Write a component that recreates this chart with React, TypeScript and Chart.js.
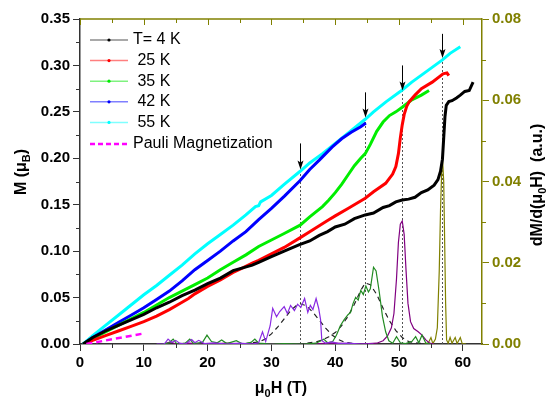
import React, { useEffect, useRef } from "react";
import { Chart, registerables } from "chart.js";
Chart.register(...registerables);

const FONT = "'Liberation Sans', Arial, Helvetica, sans-serif";
const OLIVE = "#808000";

// ---- Magnetization M(H) (left axis, μB) ----
const fieldT4 = [0.5, 2, 4, 6, 8, 10, 12, 14, 16, 18, 20, 22, 24, 25.5, 27, 28, 30, 32, 34.4, 36, 37.5, 38.8, 40, 41.5, 43, 44.7, 46, 47.5, 48.5, 49.5, 50.5, 51.5, 52.5, 53.5, 54.5, 55.5, 56.1, 56.5, 56.8, 57.0, 57.2, 57.4, 57.8, 58.3, 59, 59.6, 60.3, 61, 61.6];
const magT4 = [0, 0.007, 0.014, 0.020, 0.026, 0.032, 0.039, 0.045, 0.052, 0.058, 0.065, 0.071, 0.079, 0.082, 0.085, 0.088, 0.094, 0.100, 0.107, 0.111, 0.117, 0.121, 0.126, 0.129, 0.135, 0.139, 0.141, 0.147, 0.149, 0.153, 0.155, 0.156, 0.158, 0.163, 0.166, 0.171, 0.177, 0.186, 0.199, 0.222, 0.245, 0.257, 0.261, 0.262, 0.265, 0.268, 0.272, 0.273, 0.282];

const fieldT25 = [1, 2, 4, 6, 8, 10, 12, 14, 16, 17, 18, 20, 22, 24, 25.5, 27, 28, 30, 32, 34.4, 36, 38.8, 40, 42, 44.7, 46, 47.9, 49, 49.5, 49.9, 50.2, 50.5, 50.8, 51.2, 51.6, 52.5, 53.5, 55.2, 56.9, 57.5, 57.8];
const magT25 = [0, 0.004, 0.009, 0.014, 0.019, 0.024, 0.030, 0.037, 0.045, 0.049, 0.054, 0.062, 0.069, 0.077, 0.082, 0.087, 0.090, 0.097, 0.104, 0.114, 0.121, 0.133, 0.138, 0.146, 0.157, 0.164, 0.173, 0.183, 0.191, 0.205, 0.222, 0.236, 0.247, 0.256, 0.261, 0.268, 0.275, 0.282, 0.291, 0.292, 0.289];

const fieldT35 = [0.5, 2, 4, 6, 8, 10, 12, 14, 16, 18, 20, 22, 24, 26, 28, 30, 32, 34.5, 36, 38, 39, 40, 41, 42, 43, 44, 44.7, 45.5, 46.5, 47.5, 48.5, 49.5, 50.5, 52, 53.5, 54.7];
const magT35 = [0, 0.006, 0.013, 0.020, 0.027, 0.034, 0.042, 0.050, 0.057, 0.064, 0.071, 0.080, 0.088, 0.096, 0.105, 0.112, 0.119, 0.128, 0.137, 0.148, 0.155, 0.163, 0.172, 0.182, 0.192, 0.200, 0.205, 0.215, 0.229, 0.239, 0.246, 0.250, 0.255, 0.263, 0.268, 0.273];

const fieldT42 = [0.5, 2, 4, 6, 8, 10, 12, 14, 16, 18, 20, 22, 24, 26, 28, 30, 32, 34.5, 36, 37.5, 38.5, 39.5, 41, 42.5, 44, 44.8];
const magT42 = [0, 0.007, 0.015, 0.023, 0.031, 0.039, 0.048, 0.057, 0.068, 0.080, 0.090, 0.100, 0.111, 0.121, 0.134, 0.146, 0.159, 0.176, 0.188, 0.198, 0.205, 0.212, 0.221, 0.228, 0.234, 0.238];

const fieldT55 = [0.5, 2, 4, 6, 8, 10, 12, 14, 16, 18, 20, 22, 24, 26, 27.5, 28, 28.3, 30, 32, 34.5, 36, 38, 40, 42, 44.7, 46, 48, 50.4, 52, 54, 56.8, 58, 59.6];
const magT55 = [0, 0.009, 0.020, 0.031, 0.042, 0.053, 0.063, 0.074, 0.085, 0.097, 0.108, 0.118, 0.128, 0.139, 0.148, 0.149, 0.153, 0.160, 0.172, 0.186, 0.195, 0.205, 0.216, 0.227, 0.242, 0.250, 0.261, 0.273, 0.282, 0.292, 0.306, 0.313, 0.320];

const fieldPauli = [1, 10.1];
const magPauli = [0, 0.0115];

// ---- dM/d(μ0H) (right axis, a.u.) ----
const fieldD42 = [12, 13.2, 13.8, 14.4, 15, 15.6, 16.5, 17.5, 18, 18.6, 19.5, 21, 23, 25, 27, 28, 28.6, 29.1, 29.8, 30.2, 30.8, 31.3, 32, 32.5, 33, 33.6, 34.1, 34.6, 35.2, 35.7, 36.1, 36.5, 37, 37.4, 37.7, 37.9, 38.5, 39.5, 40.5, 42, 44, 46];
const derivD42 = [0, 0, 0.0012, 0.0004, 0.0009, 0.0002, 0, 0.0011, 0.0003, 0.0009, 0.0001, 0.0003, 0, 0.0002, 0, 0.0003, 0.003, 0.0006, 0.0045, 0.0088, 0.0067, 0.008, 0.0092, 0.0075, 0.0095, 0.0082, 0.0098, 0.009, 0.0112, 0.0078, 0.0095, 0.0085, 0.0112, 0.0088, 0.006, 0.0008, 0.0002, 0.0005, 0.0001, 0.0002, 0, 0];

const fieldD35 = [13, 14, 14.6, 15.2, 16.5, 17.2, 17.8, 19.2, 19.9, 20.6, 21.5, 22.2, 23, 24.5, 25.5, 26.8, 27.4, 28, 30, 32, 35, 37, 38.2, 38.8, 39.6, 40.2, 40.8, 41.4, 42.0, 42.4, 42.8, 43.2, 43.6, 44.0, 44.4, 44.8, 45.2, 45.5, 46.0, 46.4, 46.9, 47.4, 47.9, 48.4, 49.0, 49.6, 50.2, 51, 52, 52.6, 53.1, 53.6, 54.2, 55];
const derivD35 = [0, 0.0003, 0.0012, 0, 0.0002, 0.0012, 0.0001, 0.0004, 0.0022, 0.0006, 0.0003, 0.001, 0.0001, 0.0008, 0, 0.0004, 0.0012, 0.0002, 0, 0.0001, 0, 0.0002, 0.0012, 0.0003, 0.0006, 0.0022, 0.0045, 0.006, 0.0072, 0.0078, 0.01, 0.0115, 0.0108, 0.0132, 0.0122, 0.0143, 0.0128, 0.0136, 0.0189, 0.018, 0.0128, 0.0068, 0.003, 0.0008, 0.0002, 0.0018, 0.0003, 0.0001, 0.0006, 0.0018, 0.0003, 0.0022, 0.0002, 0];

const fieldD25 = [13, 14.2, 15, 17, 20, 23, 26, 30, 35, 40, 44, 46.5, 47.5, 48.2, 48.8, 49.2, 49.6, 49.9, 50.2, 50.5, 50.8, 51.1, 51.4, 51.8, 52.3, 53, 53.6, 54.2, 54.8, 55.5];
const derivD25 = [0, 0.0005, 0, 0.0002, 0, 0.0002, 0, 0.0001, 0, 0.0002, 0, 0.0002, 0.0008, 0.002, 0.004, 0.0075, 0.016, 0.025, 0.0295, 0.0303, 0.027, 0.018, 0.01, 0.0055, 0.0038, 0.003, 0.0022, 0.001, 0.0002, 0];

const fieldD4 = [54, 54.6, 55.0, 55.3, 55.7, 56.0, 56.3, 56.5, 56.7, 56.85, 57.0, 57.15, 57.3, 57.45, 57.7, 58.0, 58.3, 58.8, 59.1, 59.6, 59.9, 60.5];
const derivD4 = [0, 0.0003, 0.0016, 0.0001, 0.0012, 0.004, 0.018, 0.033, 0.0435, 0.0445, 0.04, 0.025, 0.01, 0.001, 0.0002, 0.0016, 0.0002, 0.0016, 0.0001, 0.0016, 0.0001, 0];

// Gaussian fits (dashed)
const fieldFit42 = [13, 26, 28, 29, 30, 31, 32, 33, 34, 34.5, 35.5, 36.5, 37.5, 38.5, 39.5, 40.5, 41.5, 43, 46];
const fitFit42 = [0, 0.0001, 0.0005, 0.0012, 0.0025, 0.0042, 0.0062, 0.0082, 0.0096, 0.0099, 0.0094, 0.0078, 0.0059, 0.0039, 0.0022, 0.0011, 0.0004, 0.0001, 0];
const fieldFit35 = [30, 35, 37, 38, 39, 40, 41, 42, 43, 44, 44.7, 45.5, 46.5, 47.5, 48.5, 49.5, 50.5, 51.5, 53, 55];
const fitFit35 = [0, 0.0001, 0.0005, 0.001, 0.0018, 0.0028, 0.0045, 0.0068, 0.0098, 0.0132, 0.015, 0.0146, 0.0122, 0.0088, 0.0057, 0.0033, 0.0016, 0.0006, 0.0002, 0];

// Transition fields marked by arrows and dotted lines
const arrowFields = [34.5, 44.7, 50.4, 56.8];
const arrowTips = [0.188, 0.244, 0.273, 0.308];
const arrowTails = [0.216, 0.271, 0.300, 0.334];

// Axis ticks
const xMajor = [0, 10, 20, 30, 40, 50, 60];
const xMinor = [5, 15, 25, 35, 45, 55];
const yMinor = [0.025, 0.075, 0.125, 0.175, 0.225, 0.275, 0.325];
const y2Minor = [0.01, 0.03, 0.05, 0.07];

const legendLabels = ["T= 4 K", " 25 K", " 35 K", " 42 K", " 55 K", "Pauli Magnetization"];
const legendColors = ["#000000", "#ff0000", "#00ee00", "#0000ff", "#00ffff", "#ff00ff"];
const legendFaint = ["rgba(0,0,0,0.45)", "rgba(255,0,0,0.5)", "rgba(0,230,0,0.5)", "rgba(0,0,255,0.5)", "rgba(0,255,255,0.5)", "#ff00ff"];

const pts = (xs: number[], ys: number[]) => xs.map((x, i) => ({ x, y: ys[i] }));

function drawRich(ctx: CanvasRenderingContext2D, parts: { t: string; sub?: boolean }[], cx: number, cy: number, rot: number, size: number) {
  ctx.save();
  ctx.translate(cx, cy);
  ctx.rotate(rot);
  const mainF = `bold ${size}px ${FONT}`;
  const subF = `bold ${Math.round(size * 0.68)}px ${FONT}`;
  let total = 0;
  parts.forEach((p) => {
    ctx.font = p.sub ? subF : mainF;
    total += ctx.measureText(p.t).width;
  });
  let xx = -total / 2;
  ctx.textBaseline = "middle";
  ctx.textAlign = "left";
  ctx.fillStyle = "#000";
  parts.forEach((p) => {
    ctx.font = p.sub ? subF : mainF;
    ctx.fillText(p.t, xx, p.sub ? size * 0.32 : 0);
    xx += ctx.measureText(p.t).width;
  });
  ctx.restore();
}

const decorPlugin = {
  id: "decor",
  beforeDatasetsDraw(chart: any) {
    const { ctx, scales } = chart;
    const x = scales.x, y = scales.y;
    ctx.save();
    ctx.setLineDash([2, 2]);
    ctx.strokeStyle = "#555";
    ctx.lineWidth = 1;
    arrowFields.forEach((h, i) => {
      const px = Math.round(x.getPixelForValue(h)) + 0.5;
      ctx.beginPath();
      ctx.moveTo(px, y.getPixelForValue(0));
      ctx.lineTo(px, y.getPixelForValue(arrowTips[i]));
      ctx.stroke();
    });
    ctx.restore();
  },
  afterDraw(chart: any) {
    const { ctx, chartArea, scales } = chart;
    const x = scales.x, y = scales.y, y2 = scales.y2;
    const { left, right, top, bottom } = chartArea;
    ctx.save();
    // arrows
    ctx.strokeStyle = "#000";
    ctx.fillStyle = "#000";
    ctx.lineWidth = 1;
    arrowFields.forEach((h, i) => {
      const px = Math.round(x.getPixelForValue(h)) + 0.5;
      const yt = y.getPixelForValue(arrowTips[i]);
      const yl = y.getPixelForValue(arrowTails[i]);
      ctx.beginPath();
      ctx.moveTo(px, yl);
      ctx.lineTo(px, yt - 6);
      ctx.stroke();
      ctx.beginPath();
      ctx.moveTo(px, yt);
      ctx.lineTo(px - 3, yt - 9);
      ctx.lineTo(px, yt - 7);
      ctx.lineTo(px + 3, yt - 9);
      ctx.closePath();
      ctx.fill();
    });
    // top axis (olive)
    ctx.strokeStyle = OLIVE;
    ctx.lineWidth = 1.5;
    ctx.beginPath();
    ctx.moveTo(left, top);
    ctx.lineTo(right, top);
    ctx.stroke();
    ctx.lineWidth = 1;
    xMajor.forEach((v) => {
      const px = Math.round(x.getPixelForValue(v)) + 0.5;
      ctx.beginPath(); ctx.moveTo(px, top); ctx.lineTo(px, top + 6); ctx.stroke();
    });
    xMinor.forEach((v) => {
      const px = Math.round(x.getPixelForValue(v)) + 0.5;
      ctx.beginPath(); ctx.moveTo(px, top); ctx.lineTo(px, top + 4); ctx.stroke();
    });
    // right minor ticks
    y2Minor.forEach((v) => {
      const py = Math.round(y2.getPixelForValue(v)) + 0.5;
      ctx.beginPath(); ctx.moveTo(right, py); ctx.lineTo(right + 4, py); ctx.stroke();
    });
    // left & bottom minor ticks
    ctx.strokeStyle = "#333";
    yMinor.forEach((v) => {
      const py = Math.round(y.getPixelForValue(v)) + 0.5;
      ctx.beginPath(); ctx.moveTo(left - 4, py); ctx.lineTo(left, py); ctx.stroke();
    });
    xMinor.forEach((v) => {
      const px = Math.round(x.getPixelForValue(v)) + 0.5;
      ctx.beginPath(); ctx.moveTo(px, bottom); ctx.lineTo(px, bottom + 4); ctx.stroke();
    });
    // legend
    const lx0 = left + 10, lx1 = left + 48, tx = left + 53;
    ctx.font = `16px ${FONT}`;
    ctx.textBaseline = "middle";
    ctx.textAlign = "left";
    legendLabels.forEach((lab, i) => {
      const ly = top + 21 + i * 20.6 + (i === 5 ? 1 : 0);
      ctx.save();
      if (i === 5) {
        ctx.setLineDash([5, 3]);
        ctx.lineWidth = 2.5;
        ctx.strokeStyle = legendColors[i];
      } else {
        ctx.lineWidth = 1.5;
        ctx.strokeStyle = legendFaint[i];
      }
      ctx.beginPath(); ctx.moveTo(lx0, ly); ctx.lineTo(lx1, ly); ctx.stroke();
      ctx.restore();
      if (i < 5) {
        ctx.fillStyle = legendColors[i];
        ctx.beginPath(); ctx.arc((lx0 + lx1) / 2, ly, 1.6, 0, Math.PI * 2); ctx.fill();
      }
      ctx.fillStyle = "#000";
      ctx.fillText(lab, tx, ly);
    });
    ctx.restore();
    // axis titles
    drawRich(ctx, [{ t: "M (μ" }, { t: "B", sub: true }, { t: ")" }], 22, 172, -Math.PI / 2, 16);
    drawRich(ctx, [{ t: "μ" }, { t: "0", sub: true }, { t: "H (T)" }], (left + right) / 2, 389, 0, 16);
    drawRich(ctx, [{ t: "dM/d(μ" }, { t: "0", sub: true }, { t: "H)  (a.u.)" }], 538, 185, -Math.PI / 2, 16);
  },
};

export default function App() {
  const ref = useRef<HTMLCanvasElement>(null);
  useEffect(() => {
    if (!ref.current) return;
    const thick = (label: string, color: string, xs: number[], ys: number[], order: number) => ({
      label, data: pts(xs, ys), borderColor: color, backgroundColor: color, borderWidth: 3, pointRadius: 0, yAxisID: "y", order,
    });
    const thin = (label: string, color: string, xs: number[], ys: number[], order: number, dash: number[] = []) => ({
      label, data: pts(xs, ys), borderColor: color, backgroundColor: color, borderWidth: 1.2, pointRadius: 0, yAxisID: "y2", order, borderDash: dash,
    });
    const chart = new Chart(ref.current, {
      type: "line",
      data: {
        datasets: [
          thin("fit 42K", "#222", fieldFit42, fitFit42, 9, [5, 4]),
          thin("fit 35K", "#222", fieldFit35, fitFit35, 9, [5, 4]),
          thin("dM 42K", "#8a2be2", fieldD42, derivD42, 8),
          thin("dM 35K", "#228b22", fieldD35, derivD35, 8),
          thin("dM 25K", "#800080", fieldD25, derivD25, 8),
          thin("dM 4K", OLIVE, fieldD4, derivD4, 8),
          thick("55 K", "#00ffff", fieldT55, magT55, 5),
          thick("42 K", "#0000ff", fieldT42, magT42, 4),
          thick("35 K", "#00ee00", fieldT35, magT35, 3),
          thick("25 K", "#ff0000", fieldT25, magT25, 2),
          thick("T= 4 K", "#000000", fieldT4, magT4, 1),
          { label: "Pauli", data: pts(fieldPauli, magPauli), borderColor: "#ff00ff", borderWidth: 2.5, borderDash: [6, 4], pointRadius: 0, yAxisID: "y", order: 0 },
        ],
      },
      options: {
        responsive: false,
        animation: false,
        devicePixelRatio: 1,
        layout: { padding: { top: 19, left: 0, right: 0, bottom: 0 } },
        plugins: { legend: { display: false }, tooltip: { enabled: false } },
        scales: {
          x: {
            type: "linear", min: 0, max: 63, position: "bottom",
            afterFit: (s: any) => { s.height = 59; },
            afterBuildTicks: (s: any) => { s.ticks = xMajor.map((v) => ({ value: v })); },
            ticks: { autoSkip: false, maxRotation: 0, color: "#000", font: { family: FONT, size: 15, weight: "bold" }, padding: 3 },
            grid: { drawOnChartArea: false, drawTicks: true, tickLength: 7, color: "#333" },
            border: { color: "#333", width: 1.5 },
          },
          y: {
            type: "linear", min: 0, max: 0.35, position: "left",
            afterFit: (s: any) => { s.width = 80; },
            ticks: { stepSize: 0.05, color: "#000", font: { family: FONT, size: 15, weight: "bold" }, padding: 3, callback: (v: any) => Number(v).toFixed(2) },
            grid: { drawOnChartArea: false, drawTicks: true, tickLength: 7, color: "#333" },
            border: { color: "#333", width: 1.5 },
          },
          y2: {
            type: "linear", min: 0, max: 0.08, position: "right",
            afterFit: (s: any) => { s.width = 64; },
            ticks: { stepSize: 0.02, color: OLIVE, font: { family: FONT, size: 15, weight: "bold" }, padding: 3, callback: (v: any) => Number(v).toFixed(2) },
            grid: { drawOnChartArea: false, drawTicks: true, tickLength: 7, color: OLIVE },
            border: { color: OLIVE, width: 1.5 },
          },
        },
      },
      plugins: [decorPlugin],
    } as any);
    return () => chart.destroy();
  }, []);
  return (
    <div style={{ position: "absolute", left: 0, top: 0, width: 546, height: 403, background: "#fff" }}>
      <canvas ref={ref} width={546} height={403} style={{ display: "block" }} />
    </div>
  );
}
